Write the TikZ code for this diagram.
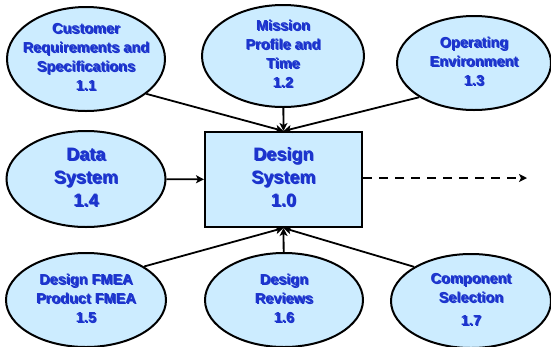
\documentclass[tikz,border=0pt]{standalone}
\usepackage{fontspec}
\setsansfont{Liberation Sans}
\usetikzlibrary{shapes.geometric,arrows.meta}

% Text with a soft dark drop shadow
\newsavebox{\lblbox}
\newcommand{\shadowlabel}[1]{%
  \sbox{\lblbox}{\begin{tabular}{@{}c@{}}#1\end{tabular}}%
  \rlap{\kern1.2pt\raisebox{-1.2pt}{\textcolor{shadowgray}{\usebox{\lblbox}}}}%
  \usebox{\lblbox}}

\begin{document}
\begin{tikzpicture}[x=1pt,y=-1pt,font=\sffamily\bfseries,
    bubble/.style={ellipse,draw=black,line width=2pt,fill=bubblefill,
      text=labelblue,inner xsep=-8pt,inner ysep=-4pt},
    sysbox/.style={rectangle,draw=black,line width=2pt,fill=bubblefill,
      text=labelblue,inner sep=0pt,minimum width=157,minimum height=95},
    small/.style={font=\sffamily\bfseries\fontsize{14.5}{19}\selectfont},
    large/.style={font=\sffamily\bfseries\fontsize{18}{23}\selectfont},
    feed/.style={line width=1.8pt,-{Stealth[length=8pt,width=8pt,inset=2pt]}}]
    % Define colors
    \definecolor{bubblefill}{RGB}{204,236,255}
    \definecolor{labelblue}{RGB}{28,52,205}
    \definecolor{shadowgray}{RGB}{60,60,70}

    \useasboundingbox (0,0) rectangle (551,346);

    % Top row of inputs
    \node[bubble,small,minimum width=158,minimum height=104] (c11) at (86,59)
      {\shadowlabel{Customer\\Requirements and\\Specifications\\1.1}};
    \node[bubble,small,minimum width=162,minimum height=102] (c12) at (283,56)
      {\shadowlabel{Mission\\Profile and\\Time\\1.2}};
    \node[bubble,small,minimum width=154,minimum height=94] (c13) at (474,63)
      {\shadowlabel{Operating\\Environment\\1.3}};

    % Middle row
    \node[bubble,large,minimum width=159,minimum height=96] (c14) at (86,179)
      {\shadowlabel{Data\\System\\1.4}};
    \node[sysbox,large] (sys) at (283.5,179.5)
      {\shadowlabel{Design\\System\\1.0}};
    \coordinate (out) at (527,178);

    % Bottom row of inputs
    \node[bubble,small,minimum width=160,minimum height=94] (c15) at (86,300)
      {\shadowlabel{Design FMEA\\Product FMEA\\1.5}};
    \node[bubble,small,minimum width=158,minimum height=94] (c16) at (284,300)
      {\shadowlabel{Design\\Reviews\\1.6}};
    \node[bubble,small,minimum width=160,minimum height=94] (c17) at (471,301)
      {\shadowlabel{Component\\Selection\\[4pt]1.7}};

    % Arrows into the design system
    \draw[feed] (c11.-30) -- (sys.north);
    \draw[feed] (c12) -- (sys.north);
    \draw[feed] (c13.212) -- (sys.north);
    \draw[feed] (c14) -- (sys);
    \draw[feed] (c15.30) -- (sys.south);
    \draw[feed] (c16) -- (sys.south);
    \draw[feed] (c17.149) -- (sys.south);

    % Output
    \draw[feed,dash pattern=on 9pt off 7pt] (sys.east |- out) -- (out);

\end{tikzpicture}
\end{document}
